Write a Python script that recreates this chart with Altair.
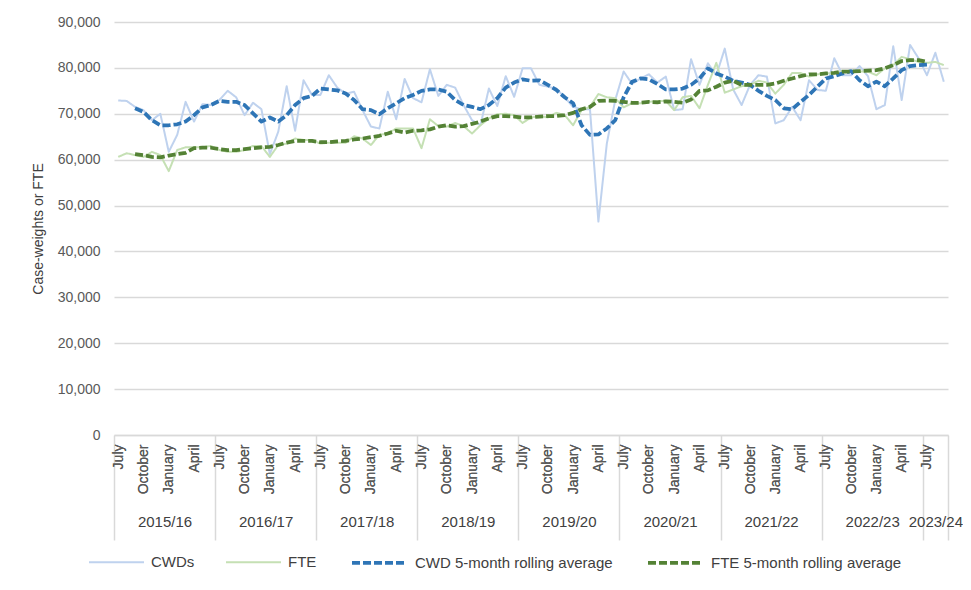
import json
import altair as alt
import pandas as pd

# ---------------- data ----------------
fy_labels = ["2015/16", "2016/17", "2017/18", "2018/19", "2019/20",
             "2020/21", "2021/22", "2022/23", "2023/24"]
month_labels = ["July", "", "", "October", "", "", "January", "", "", "April", "", ""]

cwd = [72900, 72800, 71500, 70800, 68600, 70000, 61700, 65400, 72600, 68300, 72100, 71900,
       73000, 75000, 73600, 69700, 72400, 71000, 61200, 66100, 76000, 66300, 77300, 74100,
       74100, 78400, 75700, 74400, 74800, 70800, 67200, 66800, 74800, 68800, 77600, 73400,
       72500, 79700, 73900, 76300, 75700, 71900, 68600, 67500, 75500, 71700, 78200, 73700,
       79900, 79900, 76300, 75900, 75500, 73600, 71500, 71000, 71000, 46500, 63500, 73000,
       79200, 76500, 77700, 78600, 76800, 78100, 70800, 71000, 81900, 76300, 81000, 78400,
       84200, 75300, 71900, 76300, 78400, 78100, 67900, 68600, 71500, 68600, 77300, 75200,
       75000, 82100, 78400, 78400, 80400, 78200, 71000, 71900, 84700, 73000, 85000, 82100,
       78400, 83300, 77000]

fte = [60600, 61400, 61000, 60600, 61700, 61000, 57500, 62100, 62700, 62700, 62700, 63000,
       62100, 61700, 61700, 62100, 63000, 63000, 60600, 63200, 63500, 64600, 64300, 64300,
       63500, 63700, 63700, 63700, 65100, 64600, 63200, 65400, 65700, 66800, 66800, 66800,
       62500, 68800, 67300, 67200, 68000, 67300, 65700, 67500, 69000, 69900, 70000, 69700,
       68000, 69200, 69500, 69200, 70200, 69700, 67500, 70800, 71500, 74300, 73600, 73400,
       71400, 72300, 72300, 72600, 72800, 72800, 70800, 73600, 73900, 71200, 76300, 81100,
       74600, 75300, 76000, 76300, 77200, 76800, 74400, 76300, 78900, 78900, 78100, 78600,
       78800, 78900, 79200, 79400, 79200, 79200, 78400, 79900, 80600, 82400, 81900, 81300,
       81100, 81300, 80600]

# 5-month rolling averages as drawn (first value belongs to the 3rd month)
roll_offset = 2
cwd_roll = [71200, 70400, 68600, 67500, 67500, 67700, 68300, 69700, 71400, 71900,
            72800, 72600, 72600, 71900, 70100, 68300, 69200, 68300, 69700, 71900,
            73400, 73900, 75500, 75300, 75100, 74400, 73000, 71000, 70800, 69900,
            71200, 72300, 73400, 74100, 75000, 75300, 75300, 74800, 73000, 71900,
            71500, 71000, 71900, 73400, 75700, 76800, 77500, 77200, 77300, 76300,
            75200, 73600, 72300, 67500, 65400, 65500, 66800, 68600, 73600, 77000,
            77700, 77500, 76500, 75300, 75300, 75500, 76300, 77700, 79900, 78800,
            78100, 77200, 76800, 76300, 75000, 73900, 73000, 71200, 71000, 72600,
            74100, 75900, 77700, 78200, 78800, 79300, 77300, 76000, 77000, 76000,
            77700, 79500, 80400, 80600, 80700]
fte_roll = [61200, 61000, 60600, 60500, 60900, 61200, 61500, 62500, 62600, 62600,
            62300, 62100, 62100, 62300, 62500, 62700, 62800, 63200, 63700, 64100,
            64100, 64100, 63800, 63800, 64000, 64100, 64400, 64600, 64900, 65200,
            65700, 66300, 65900, 66300, 66400, 66600, 67200, 67500, 67200, 67300,
            67800, 68300, 69000, 69500, 69500, 69400, 69200, 69200, 69400, 69500,
            69500, 69700, 70200, 71000, 71500, 72800, 72900, 72800, 72600, 72400,
            72400, 72600, 72500, 72700, 72600, 72400, 73100, 75000, 75100, 75900,
            76800, 77200, 76300, 76300, 76300, 76300, 76600, 77200, 77700, 78200,
            78600, 78600, 78800, 78900, 79200, 79200, 79300, 79400, 79500, 79900,
            80600, 81500, 81700, 81700, 81300]

series_names = ["CWDs", "FTE", "CWD 5-month rolling average", "FTE 5-month rolling average"]
series_colors = ["#bfd2ee", "#c5e0b4", "#2e75b6", "#548235"]
series_dash = [[1, 0], [1, 0], [8, 3], [8, 3]]
series_width = [2, 2, 3.75, 3.75]

# ---------------- tables ----------------
rows = []
for name, vals, off in [(series_names[0], cwd, 0), (series_names[1], fte, 0),
                        (series_names[2], cwd_roll, roll_offset),
                        (series_names[3], fte_roll, roll_offset)]:
    for k, v in enumerate(vals):
        rows.append({"series": name, "x": off + k + 0.5, "value": v})
df = pd.DataFrame(rows)
raw_df = df[df["series"].isin(series_names[:2])]
roll_df = df[df["series"].isin(series_names[2:])]

n_months = len(cwd)
bounds = [12 * k for k in range(len(fy_labels))] + [n_months]
mids = [(bounds[k] + bounds[k + 1]) / 2 for k in range(len(fy_labels))]
month_ticks = [i + 0.5 for i in range(n_months) if month_labels[i % 12]]

xscale = alt.Scale(domain=[0, n_months], nice=False, zero=False)
GRID = "#d9d9d9"
FONT = "Liberation Sans"


def make_legend():
    return alt.Legend(orient="none", legendX=-26, legendY=511,
                      direction="horizontal", title=None,
                      symbolType="stroke", symbolSize=3025,
                      labelFontSize=15, labelColor="#404040",
                      labelFont=FONT, columnPadding=27, labelOffset=6,
                      labelLimit=400)


color = alt.Color("series:N", scale=alt.Scale(domain=series_names, range=series_colors),
                  legend=make_legend())
dash = alt.StrokeDash("series:N",
                      scale=alt.Scale(type="ordinal", domain=series_names, range=series_dash),
                      legend=make_legend())
width_enc = alt.StrokeWidth("series:N",
                            scale=alt.Scale(type="ordinal", domain=series_names,
                                            range=series_width),
                            legend=make_legend())

month_axis = alt.Axis(orient="bottom", values=month_ticks,
                      labelExpr="%s[floor(datum.value) %% 12]" % json.dumps(month_labels),
                      labelAngle=270, labelPadding=9, ticks=False, domain=False, grid=False,
                      title=None, labelFontSize=14, labelColor="#595959", labelFont=FONT,
                      labelOverlap=False, labelFlush=False)
y_axis = alt.Axis(values=list(range(0, 90001, 10000)),
                  labelExpr="format(datum.value, ',')", grid=True,
                  gridColor=GRID, gridWidth=1.5, domain=False, ticks=False,
                  labelPadding=14, labelFontSize=14, labelColor="#595959", labelFont=FONT,
                  title="Case-weights or FTE", titleFontSize=14, titleColor="#404040",
                  titleFont=FONT, titleFontWeight="normal", titlePadding=12)

base_enc = dict(
    x=alt.X("x:Q", scale=xscale, axis=month_axis),
    y=alt.Y("value:Q", scale=alt.Scale(domain=[0, 90000], nice=False), axis=y_axis),
    color=color, strokeDash=dash, strokeWidth=width_enc,
)

raw_lines = alt.Chart(raw_df).mark_line(strokeJoin="round").encode(**base_enc)
roll_lines = alt.Chart(roll_df).mark_line(strokeJoin="round", strokeCap="butt").encode(**base_enc)

bound_layer = alt.Chart(pd.DataFrame({"x": bounds})).mark_rule(opacity=0).encode(
    x=alt.X("x:Q", scale=xscale,
            axis=alt.Axis(orient="bottom", values=bounds, labels=False, tickSize=105,
                          tickColor=GRID, tickWidth=1.5, domain=True, domainColor=GRID,
                          domainWidth=1.5, grid=False, title=None)))

year_layer = alt.Chart(pd.DataFrame({"x": mids})).mark_rule(opacity=0).encode(
    x=alt.X("x:Q", scale=xscale,
            axis=alt.Axis(orient="bottom", values=mids,
                          labelExpr="%s[floor(datum.value / 12)]" % json.dumps(fy_labels),
                          ticks=False, domain=False, grid=False, labelPadding=79,
                          labelFontSize=15, labelColor="#404040", labelFont=FONT,
                          title=None, labelOverlap=False, labelFlush=False, labelBound=False)))

chart = alt.layer(bound_layer, year_layer, raw_lines, roll_lines).resolve_axis(
    x="independent"
).properties(
    width=834, height=413,
    autosize=alt.AutoSizeParams(type="none"),
    padding={"left": 106, "top": 14, "right": 15, "bottom": 152},
    background="white",
).configure_view(stroke=None)

chart.save("out.html", embed_options={"renderer": "svg", "actions": False})
